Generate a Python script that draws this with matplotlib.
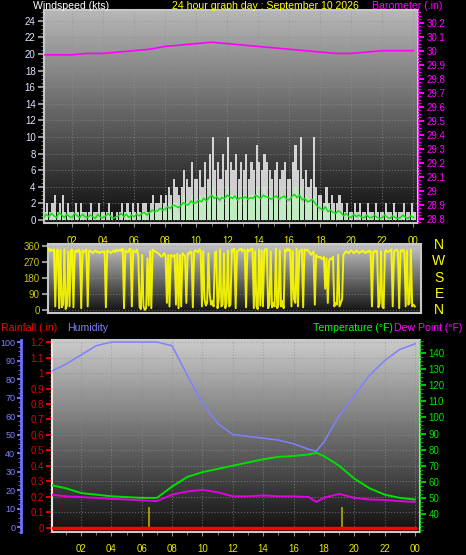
import numpy as np
import matplotlib
matplotlib.use("Agg")
import matplotlib.pyplot as plt
from matplotlib.ticker import MultipleLocator

plt.rcParams['font.family'] = ['Liberation Sans', 'DejaVu Sans']

W, H = 466, 555

# ---- data (10 minute readings, hour 0 .. 24) ----
gust = [2, 1, 2, 1, 2, 3,  1, 2, 3, 1, 2, 1,  1, 2, 1, 2, 1, 1,  1, 2, 1, 1, 2, 1,
        1, 1, 2, 1, 0, 1,  1, 2, 1, 2, 1, 2,  1, 2, 1, 2, 2, 1,  2, 3, 2, 2, 3, 2,
        3, 4, 3, 5, 4, 3,  4, 6, 5, 4, 7, 5,  5, 6, 4, 7, 5, 8,  10, 6, 7, 5, 8, 6,
        10, 7, 6, 8, 5, 7,  6, 8, 5, 7, 6, 9,  7, 6, 8, 7, 6, 5,  6, 7, 5, 6, 7, 5,
        5, 7, 9, 6, 10, 5,  6, 4, 5, 10, 4, 3,  3, 2, 4, 2, 3, 2,  2, 3, 2, 1, 2, 1,
        1, 2, 1, 2, 1, 1,  2, 1, 1, 2, 1, 1,  1, 2, 1, 1, 2, 1,  1, 1, 2, 1, 1, 2, 1]
speed = [1, 0, 1, 0, 1, 1,  0, 1, 1, 0, 1, 0,  0, 1, 0, 1, 0, 0,  0, 1, 0, 0, 1, 0,
         0, 0, 1, 0, 0, 0,  0, 1, 0, 1, 0, 1,  0, 1, 0, 1, 1, 0,  1, 1, 1, 1, 1, 1,
         1, 2, 1, 2, 2, 1,  2, 3, 2, 2, 3, 2,  2, 3, 2, 3, 2, 3,  4, 3, 3, 2, 3, 3,
         4, 3, 3, 3, 2, 3,  3, 3, 2, 3, 3, 4,  3, 3, 4, 3, 3, 2,  3, 3, 2, 3, 3, 2,
         2, 3, 4, 3, 4, 2,  3, 2, 2, 3, 2, 1,  1, 1, 2, 1, 1, 1,  1, 1, 1, 0, 1, 0,
         0, 1, 0, 1, 0, 0,  1, 0, 0, 1, 0, 0,  0, 1, 0, 0, 1, 0,  0, 0, 1, 0, 0, 1, 0]
wind_avg = [0.6, 0.3, 0.7, 0.4, 0.8, 0.5,  0.3, 0.9, 0.6, 0.3, 0.7, 0.4,  0.3, 0.8, 0.5, 0.3, 0.7, 0.4,
            0.3, 0.6, 0.4, 0.2, 0.7, 0.3,  0.3, 0.5, 0.8, 0.4, 0.2, 0.4,  0.5, 0.8, 0.4, 0.7, 0.3, 0.6,
            0.4, 0.7, 0.5, 0.8, 0.9, 0.6,  0.9, 1.2, 1.0, 1.1, 1.4, 1.2,  1.3, 1.6, 1.4, 1.8, 1.7, 1.5,
            1.7, 2.1, 1.9, 1.8, 2.3, 2.0,  2.1, 2.4, 2.2, 2.6, 2.3, 2.7,  3.0, 2.6, 2.8, 2.4, 2.7, 2.6,
            3.0, 2.8, 2.6, 2.9, 2.4, 2.7,  2.6, 2.8, 2.5, 2.7, 2.6, 3.0,  2.8, 2.6, 3.0, 2.8, 2.7, 2.5,
            2.7, 2.9, 2.5, 2.7, 2.9, 2.5,  2.4, 2.8, 3.1, 2.7, 3.0, 2.4,  2.6, 2.2, 2.3, 2.5, 2.0, 1.6,
            1.4, 1.2, 1.6, 1.0, 1.2, 0.9,  0.8, 1.1, 0.9, 0.5, 0.8, 0.4,  0.3, 0.7, 0.4, 0.6, 0.3, 0.3,
            0.6, 0.3, 0.3, 0.6, 0.3, 0.2,  0.3, 0.6, 0.3, 0.2, 0.5, 0.3,  0.2, 0.3, 0.6, 0.3, 0.2, 0.5, 0.3]

baro_hours = list(range(25))
baro = [29.97, 29.97, 29.97, 29.98, 29.98, 29.99, 30.00, 30.01, 30.03, 30.04, 30.05, 30.06,
        30.05, 30.04, 30.03, 30.02, 30.01, 30.00, 29.99, 29.98, 29.98, 29.99, 30.00, 30.00, 30.00]

# wind direction, 5 minute readings (one row per hour)
wind_dir = [
    335, 345, 330, 340, 325, 335, 345, 330, 340, 335, 340, 20,
    330, 340, 10, 335, 15, 30, 340, 5, 25, 330, 20, 335,
    340, 15, 330, 335, 325, 340, 330, 10, 335, 325, 330, 340,
    20, 330, 335, 325, 320, 330, 335, 325, 330, 320, 325, 330,
    325, 330, 15, 335, 330, 325, 320, 330, 335, 325, 340, 330,
    335, 340, 330, 345, 10, 335, 330, 325, 340, 345, 20, 335,
    330, 325, 340, 300, 15, 5, 310, 20, 0, 10, 290, 25,
    330, 10, 340, 335, 330, 325, 320, 315, 305, 300, 310, 320,
    300, 40, 310, 20, 310, 305, 300, 310, 30, 315, 10, 310,
    20, 320, 310, 305, 40, 320, 315, 330, 325, 15, 330, 335,
    330, 325, 340, 335, 20, 330, 60, 25, 40, 320, 90, 30,
    50, 20, 320, 330, 10, 60, 340, 20, 30, 320, 10, 40,
    335, 20, 30, 340, 330, 345, 10, 330, 335, 340, 345, 330,
    340, 335, 15, 340, 330, 335, 345, 340, 10, 330, 20, 5,
    340, 25, 335, 20, 330, 345, 340, 10, 30, 330, 15, 40,
    20, 345, 10, 30, 335, 20, 50, 10, 340, 330, 345, 335,
    340, 20, 330, 60, 40, 345, 20, 330, 335, 340, 15, 340,
    335, 340, 330, 325, 310, 320, 330, 30, 310, 300, 295, 300,
    290, 285, 300, 120, 290, 40, 280, 290, 285, 300, 20, 40,
    30, 310, 20, 40, 60, 310, 320, 330, 325, 320, 330, 335,
    330, 320, 325, 335, 330, 320, 325, 330, 335, 325, 320, 330,
    325, 335, 330, 20, 330, 325, 335, 330, 15, 40, 330, 20,
    10, 330, 335, 325, 330, 335, 340, 20, 330, 335, 340, 330,
    10, 335, 330, 340, 325, 20, 335, 30, 40, 340, 20, 30,
    20]

hours = [0, 1, 2, 3, 4, 5, 6, 7, 8, 9, 10, 11, 12, 13, 14, 15, 16, 17, 17.5, 18, 19, 20, 21, 22, 23, 24]
humidity = [84, 88, 93, 98, 100, 100, 100, 100, 98, 82, 67, 56, 50, 49, 48, 47, 45, 42, 41, 46, 60, 71, 82, 90, 96, 99]
temperature = [58, 56, 53, 52, 51, 50.5, 50, 50, 57, 63, 66, 68, 70, 72, 74, 75.5, 76, 77, 78, 76, 70, 62, 56, 52, 50, 49]
dewpoint = [52, 51, 50.5, 50, 49.5, 49, 48.5, 48, 52, 54, 55, 53.5, 51, 51, 51.5, 51, 51, 50.5, 47.5, 50, 52.5, 50, 49, 48.7, 48, 47.5]
rain = [0] * len(hours)
sun_events = [6.45, 19.2]

xticks = [2, 4, 6, 8, 10, 12, 14, 16, 18, 20, 22, 24]
xticklabels = ['02', '04', '06', '08', '10', '12', '14', '16', '18', '20', '22', '00']
compass = ['N', 'W', 'S', 'E', 'N']


def px(x0, y0, x1, y1):
    return [x0 / W, 1 - y1 / H, (x1 - x0) / W, (y1 - y0) / H]


def gradient(ax, top, bottom):
    g = np.linspace(1, 0, 256).reshape(-1, 1)
    cols = np.array(bottom) + g[..., None] * (np.array(top) - np.array(bottom))
    ax.imshow(cols, extent=[0, 1, 0, 1], transform=ax.transAxes, aspect='auto', zorder=0)


def frame(ax):
    for s in ax.spines.values():
        s.set_color('#c8c8c8')
        s.set_linewidth(1.5)


fig = plt.figure(figsize=(W / 100, H / 100), dpi=100, facecolor='black')

# ---------------- wind speed / barometer ----------------
ax = fig.add_axes(px(44, 10, 418, 223))
ax.set_facecolor('black')
gradient(ax, [0.72, 0.72, 0.72], [0.05, 0.05, 0.05])
t10 = np.arange(len(gust)) / 6.0
ax.bar(t10, gust, width=0.14, align='edge', color='#eeeeee', alpha=0.85, zorder=2)
ax.bar(t10, speed, width=0.14, align='edge', color='#c0f0c0', alpha=0.9, zorder=3)
ax.plot(t10, wind_avg, color='#10e010', lw=1.1, zorder=4)
ax.set_xlim(0.19, 24.3)
ax.set_ylim(-0.36, 25.3)
ax.set_yticks(range(0, 25, 2))
ax.yaxis.set_minor_locator(MultipleLocator(0.5))
ax.set_xticks(xticks)
ax.set_xticklabels(xticklabels)
ax.xaxis.set_minor_locator(MultipleLocator(1))
ax.tick_params(axis='y', colors='#909090', labelcolor='#dde6ff', labelsize=7, length=4, width=1.5, pad=2)
ax.tick_params(axis='y', which='minor', colors='#909090', length=2)
ax.tick_params(axis='x', colors='#909090', labelcolor='#e8e800', labelsize=7, length=3, pad=6)
ax.tick_params(axis='x', which='minor', colors='#909090', length=2)
ax.grid(True, color='#909090', ls=':', lw=0.8, alpha=0.6)
frame(ax)
axb = ax.twinx()
axb.plot(baro_hours, baro, color='#ff00ff', lw=1.2, zorder=5)
axb.set_ylim(28.77, 30.29)
baro_ticks = np.round(np.arange(28.8, 30.21, 0.1), 1)
axb.set_yticks(baro_ticks)
axb.set_yticklabels([f'{v:g}' for v in baro_ticks])
axb.yaxis.set_minor_locator(MultipleLocator(0.025))
axb.tick_params(axis='y', colors='#ff00ff', labelcolor='#ff00ff', labelsize=7, length=4, width=1.5, pad=2)
axb.tick_params(axis='y', which='minor', colors='#ff00ff', length=2)
for s in axb.spines.values():
    s.set_visible(False)
axb.spines['right'].set_visible(True)
axb.spines['right'].set_color('#ff00ff')
axb.spines['right'].set_linestyle(':')

fig.text(33 / W, 1 - 9 / H, 'Windspeed (kts)', color='white', fontsize=7.6, va='baseline')
fig.text(172 / W, 1 - 9 / H, '24 hour graph day : September 10 2026', color='#ffff00', fontsize=7.6, va='baseline')
fig.text(372 / W, 1 - 9 / H, 'Barometer (.in)', color='#ff00ff', fontsize=7.6, va='baseline')

# ---------------- wind direction ----------------
ad = fig.add_axes(px(48, 244, 421, 313))
gradient(ad, [0.78, 0.78, 0.78], [0.06, 0.06, 0.06])
t5 = np.arange(len(wind_dir)) / 12.0
ad.plot(t5, wind_dir, color='#ffff00', lw=1.4, alpha=0.9, zorder=3)
ad.set_xlim(0.45, 24.4)
ad.set_ylim(-17, 371)
ad.set_yticks([0, 90, 180, 270, 360])
ad.set_xticks(xticks)
ad.set_xticklabels([])
ad.tick_params(axis='y', colors='#909090', labelcolor='#c8c800', labelsize=7, length=4, width=1.5, pad=2)
ad.tick_params(axis='x', length=0)
ad.grid(True, axis='y', color='#909090', ls=':', lw=0.8, alpha=0.6)
frame(ad)
for i, c in enumerate(compass):
    fig.text(439 / W, 1 - (245 + i * 16.3) / H, c, color='#ffff00', fontsize=10, ha='center', va='center')

# ---------------- temperature / humidity / rain ----------------
ar = fig.add_axes(px(52, 340, 420, 532))
gradient(ar, [0.8, 0.8, 0.8], [0.06, 0.06, 0.06])
ar.plot(hours, rain, color='#ff0000', lw=2.5, zorder=6)
for s in sun_events:
    ar.plot([s, s], [0, 0.13], color='#a8a000', lw=1.3, zorder=5)
ar.set_xlim(0.09, 24.33)
ar.set_ylim(-0.026, 1.213)
rain_ticks = np.round(np.arange(0, 1.21, 0.1), 1)
ar.set_yticks(rain_ticks)
ar.set_yticklabels([f'{v:g}' for v in rain_ticks])
ar.yaxis.set_minor_locator(MultipleLocator(0.025))
ar.set_xticks(xticks)
ar.set_xticklabels(xticklabels)
ar.xaxis.set_minor_locator(MultipleLocator(1))
ar.tick_params(axis='y', colors='#e00000', labelcolor='#e00000', labelsize=7, length=4, width=1.5, pad=2)
ar.tick_params(axis='y', which='minor', colors='#e00000', length=2)
ar.tick_params(axis='x', colors='#909090', labelcolor='#e8e800', labelsize=7, length=3, pad=6)
ar.tick_params(axis='x', which='minor', colors='#909090', length=2)
ar.grid(True, color='#909090', ls=':', lw=0.8, alpha=0.6)
frame(ar)
ar.spines['left'].set_color('#e8e8e8')

ah = ar.twinx()
ah.plot(hours, humidity, color='#8080ff', lw=1.1, zorder=4)
ah.set_ylim(-2.7, 101.1)
ah.set_yticks(range(0, 101, 10))
ah.yaxis.set_minor_locator(MultipleLocator(2.5))
ah.yaxis.set_ticks_position('left')
ah.yaxis.set_label_position('left')
for s in ah.spines.values():
    s.set_visible(False)
ah.spines['left'].set_visible(True)
ah.spines['left'].set_position(('outward', 22))
ah.spines['left'].set_color('#7070ff')
ah.spines['left'].set_linewidth(2)
ah.tick_params(axis='y', colors='#7070ff', labelcolor='#8080ff', labelsize=6.5, length=3, width=1.5, pad=1.5)
ah.tick_params(axis='y', which='minor', colors='#7070ff', length=2)

at = ar.twinx()
at.plot(hours, temperature, color='#00e000', lw=1.4, zorder=5)
at.plot(hours, dewpoint, color='#e000e0', lw=1.4, zorder=5)
at.set_ylim(28.8, 148.1)
at.set_yticks(range(40, 141, 10))
at.yaxis.set_minor_locator(MultipleLocator(2.5))
for s in at.spines.values():
    s.set_visible(False)
at.spines['right'].set_visible(True)
at.spines['right'].set_color('#00c000')
at.spines['right'].set_linestyle(':')
at.tick_params(axis='y', colors='#00c000', labelcolor='#00e000', labelsize=7, length=4, width=1.5, pad=2)
at.tick_params(axis='y', which='minor', colors='#00c000', length=2)

fig.text(1 / W, 1 - 331 / H, 'Rainfall (.in)', color='#ff0000', fontsize=7.6, va='baseline')
fig.text(67 / W, 1 - 331 / H, 'Humidity', color='#8080ff', fontsize=7.6, va='baseline')
fig.text(313 / W, 1 - 331 / H, 'Temperature (°F)', color='#00ff00', fontsize=7.6, va='baseline')
fig.text(394 / W, 1 - 331 / H, 'Dew Point (°F)', color='#ff00ff', fontsize=7.6, va='baseline')

fig.savefig('out.png', dpi=100, facecolor='black')
